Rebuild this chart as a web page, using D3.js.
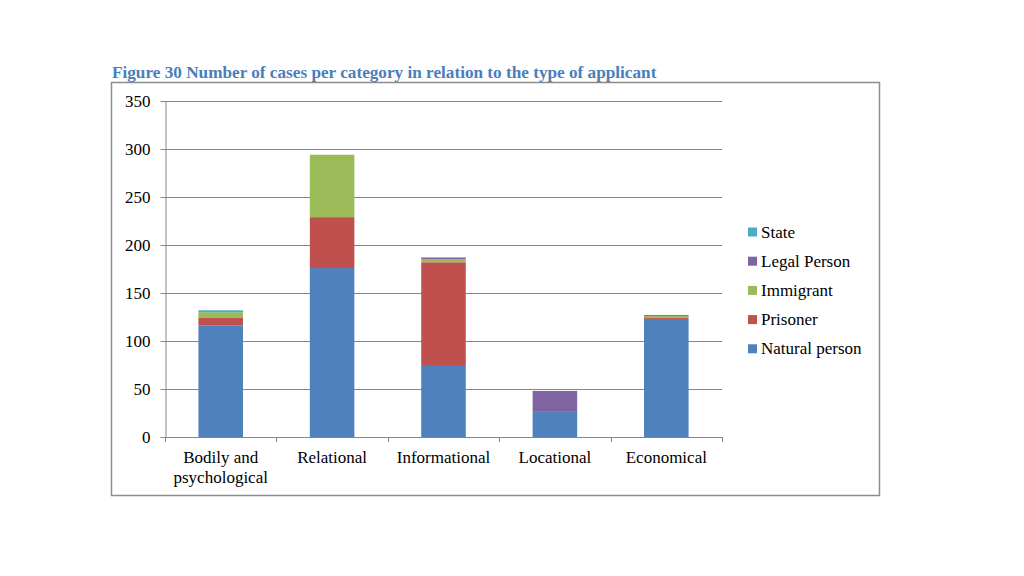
<!DOCTYPE html>
<html><head><meta charset="utf-8">
<script src="https://cdn.jsdelivr.net/npm/d3@7"></script>
<style>body{margin:0;background:#fff;} text{font-family:"Liberation Serif","Times New Roman",serif;}</style>
</head><body>
<svg id="c" width="1024" height="576"></svg>
<script>
const categories = ["Bodily and\npsychological","Relational","Informational","Locational","Economical"];
const seriesNames = ["Natural person","Prisoner","Immigrant","Legal Person","State"];
const naturalPerson = [116,176,74,27,123];
const prisoner = [8,53,108,0,1];
const immigrant = [6,65,3,0,2];
const legalPerson = [0,0,2,21,1];
const state = [2,0,0,0,0];
const yTicks = [0,50,100,150,200,250,300,350];
const colors = ["#4f81bd","#c0504d","#9bbb59","#8064a2","#4bacc6"];

const seriesVals = [naturalPerson, prisoner, immigrant, legalPerson, state];
const rows = categories.map((c,i)=>{const o={cat:c}; seriesNames.forEach((s,j)=>o[s]=seriesVals[j][i]); return o;});
const stacked = d3.stack().keys(seriesNames)(rows);

const svg = d3.select("#c");
svg.append("text").attr("x",112).attr("y",78).attr("fill","#4a7ebb").attr("font-weight","bold").attr("font-size","17.2px").text("Figure 30 Number of cases per category in relation to the type of applicant");
svg.append("rect").attr("x",111.5).attr("y",82.5).attr("width",768).attr("height",413).attr("fill","none").attr("stroke","#8c8c8c").attr("stroke-width",1.5);

const L=165,R=722,T=101,B=437;
const y = d3.scaleLinear().domain([0,350]).range([B,T]);
const x = d3.scaleBand().domain(categories).range([L,R]).paddingInner(0.6).paddingOuter(0.3);

// gridlines
svg.append("g").selectAll("line").data(yTicks.filter(t=>t>0)).join("line")
 .attr("x1",L).attr("x2",R).attr("y1",d=>Math.round(y(d))+0.5).attr("y2",d=>Math.round(y(d))+0.5)
 .attr("stroke","#868686").attr("stroke-width",1);

// y axis
const ya = svg.append("g").attr("transform",`translate(${L+0.5},0)`).call(d3.axisLeft(y).tickValues(yTicks).tickSize(5).tickSizeOuter(0));
ya.select(".domain").attr("stroke","#868686");
ya.selectAll(".tick line").attr("stroke","#868686");
ya.selectAll(".tick text").attr("font-size","17px").attr("fill","#000").attr("x",-15).attr("dy","0.35em")
  .style("font-family","'Liberation Serif',serif");

// bars
svg.append("g").selectAll("g").data(stacked).join("g").attr("fill",(d,i)=>colors[i])
 .selectAll("rect").data(d=>d).join("rect")
 .attr("x",d=>x(d.data.cat)).attr("width",x.bandwidth())
 .attr("y",d=>y(d[1])).attr("height",d=>y(d[0])-y(d[1]));

// x axis
const step = x.step();
const bounds = d3.range(categories.length+1).map(i=>L+i*step);
svg.append("line").attr("x1",L).attr("x2",R).attr("y1",B+0.5).attr("y2",B+0.5).attr("stroke","#868686");
svg.append("g").selectAll("line").data(bounds).join("line")
 .attr("x1",d=>Math.round(d)+0.5).attr("x2",d=>Math.round(d)+0.5).attr("y1",B).attr("y2",B+5).attr("stroke","#868686");
const xl = svg.append("g").selectAll("text").data(categories).join("text")
 .attr("text-anchor","middle").attr("font-size","17px").attr("fill","#000")
 .attr("transform",d=>`translate(${x(d)+x.bandwidth()/2},${463})`);
xl.selectAll("tspan").data(d=>d.split("\n")).join("tspan").attr("x",0).attr("dy",(d,i)=>i?19.5:0).text(d=>d);

// legend
const legendOrder = seriesNames.slice().reverse();
const lg = svg.append("g").selectAll("g").data(legendOrder).join("g")
 .attr("transform",(d,i)=>`translate(748,${232+i*29.2})`);
lg.append("rect").attr("x",0).attr("y",-4.5).attr("width",9).attr("height",9).attr("fill",d=>colors[seriesNames.indexOf(d)]);
lg.append("text").attr("x",13).attr("dy","0.33em").attr("font-size","17px").attr("fill","#000").text(d=>d);
</script>
</body></html>
